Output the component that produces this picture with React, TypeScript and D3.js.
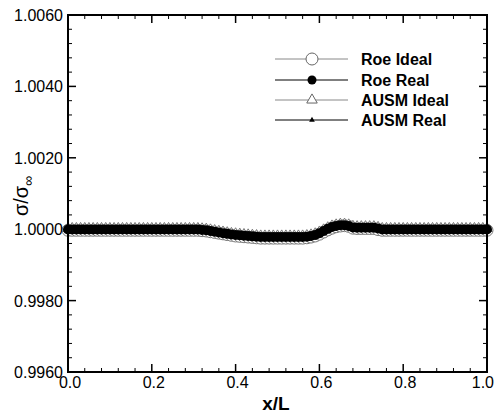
import React from "react";
import * as d3 from "d3";

const xs = [
  0.0, 0.01, 0.02, 0.03, 0.04, 0.05, 0.06, 0.07, 0.08, 0.09,
  0.1, 0.11, 0.12, 0.13, 0.14, 0.15, 0.16, 0.17, 0.18, 0.19,
  0.2, 0.21, 0.22, 0.23, 0.24, 0.25, 0.26, 0.27, 0.28, 0.29,
  0.3, 0.31, 0.32, 0.33, 0.34, 0.35, 0.36, 0.37, 0.38, 0.39,
  0.4, 0.41, 0.42, 0.43, 0.44, 0.45, 0.46, 0.47, 0.48, 0.49,
  0.5, 0.51, 0.52, 0.53, 0.54, 0.55, 0.56, 0.57, 0.58, 0.59,
  0.6, 0.61, 0.62, 0.63, 0.64, 0.65, 0.66, 0.67, 0.68, 0.69,
  0.7, 0.71, 0.72, 0.73, 0.74, 0.75, 0.76, 0.77, 0.78, 0.79,
  0.8, 0.81, 0.82, 0.83, 0.84, 0.85, 0.86, 0.87, 0.88, 0.89,
  0.9, 0.91, 0.92, 0.93, 0.94, 0.95, 0.96, 0.97, 0.98, 0.99, 1.0,
];

const roeIdeal = [
  0.99997, 0.99997, 0.99997, 0.99997, 0.99997, 0.99997, 0.99997, 0.99997, 0.99997, 0.99997,
  0.99997, 0.99997, 0.99997, 0.99997, 0.99997, 0.99997, 0.99997, 0.99997, 0.99997, 0.99997,
  0.99997, 0.99997, 0.99997, 0.99997, 0.99997, 0.99997, 0.99997, 0.99997, 0.99997, 0.99997,
  0.99997, 0.99997, 0.99996, 0.99995, 0.99993, 0.99991, 0.99989, 0.99987, 0.99985, 0.99983,
  0.99981, 0.9998, 0.99979, 0.99978, 0.99977, 0.99976, 0.99975, 0.99975, 0.99975, 0.99975,
  0.99975, 0.99975, 0.99975, 0.99975, 0.99975, 0.99975, 0.99975, 0.99976, 0.99978, 0.99981,
  0.99986, 0.99992, 0.99998, 1.00003, 1.00007, 1.00009, 1.0001, 1.00008, 1.00003, 1.00002,
  1.00002, 1.00002, 1.00002, 1.00002, 0.99999, 0.99997, 0.99997, 0.99997, 0.99997, 0.99997,
  0.99997, 0.99997, 0.99997, 0.99997, 0.99997, 0.99997, 0.99997, 0.99997, 0.99997, 0.99997,
  0.99997, 0.99997, 0.99997, 0.99997, 0.99997, 0.99997, 0.99997, 0.99997, 0.99997, 0.99997, 0.99997,
];

const roeReal = [
  0.99999, 0.99999, 0.99999, 0.99999, 0.99999, 0.99999, 0.99999, 0.99999, 0.99999, 0.99999,
  0.99999, 0.99999, 0.99999, 0.99999, 0.99999, 0.99999, 0.99999, 0.99999, 0.99999, 0.99999,
  0.99999, 0.99999, 0.99999, 0.99999, 0.99999, 0.99999, 0.99999, 0.99999, 0.99999, 0.99999,
  0.99999, 0.99999, 0.99998, 0.99997, 0.99995, 0.99993, 0.99991, 0.99989, 0.99987, 0.99985,
  0.99984, 0.99983, 0.99982, 0.99981, 0.9998, 0.99979, 0.99978, 0.99978, 0.99978, 0.99978,
  0.99978, 0.99978, 0.99978, 0.99978, 0.99978, 0.99978, 0.99978, 0.99979, 0.99981, 0.99984,
  0.99989, 0.99995, 1.00001, 1.00006, 1.00009, 1.00011, 1.00011, 1.00009, 1.00005, 1.00004,
  1.00004, 1.00004, 1.00004, 1.00004, 1.00002, 0.99999, 0.99999, 0.99999, 0.99999, 0.99999,
  0.99999, 0.99999, 0.99999, 0.99999, 0.99999, 0.99999, 0.99999, 0.99999, 0.99999, 0.99999,
  0.99999, 0.99999, 0.99999, 0.99999, 0.99999, 0.99999, 0.99999, 0.99999, 0.99999, 0.99999, 0.99999,
];

const ausmIdeal = [
  1.00002, 1.00002, 1.00002, 1.00002, 1.00002, 1.00002, 1.00002, 1.00002, 1.00002, 1.00002,
  1.00002, 1.00002, 1.00002, 1.00002, 1.00002, 1.00002, 1.00002, 1.00002, 1.00002, 1.00002,
  1.00002, 1.00002, 1.00002, 1.00002, 1.00002, 1.00002, 1.00002, 1.00002, 1.00002, 1.00002,
  1.00002, 1.00002, 1.00001, 1.0, 0.99998, 0.99996, 0.99994, 0.99992, 0.9999, 0.99988,
  0.99987, 0.99986, 0.99985, 0.99984, 0.99983, 0.99982, 0.99981, 0.99981, 0.99981, 0.99981,
  0.99981, 0.99981, 0.99981, 0.99981, 0.99981, 0.99981, 0.99981, 0.99982, 0.99984, 0.99987,
  0.99992, 0.99998, 1.00004, 1.00009, 1.00012, 1.00014, 1.00014, 1.00012, 1.00008, 1.00007,
  1.00007, 1.00007, 1.00007, 1.00007, 1.00005, 1.00002, 1.00002, 1.00002, 1.00002, 1.00002,
  1.00002, 1.00002, 1.00002, 1.00002, 1.00002, 1.00002, 1.00002, 1.00002, 1.00002, 1.00002,
  1.00002, 1.00002, 1.00002, 1.00002, 1.00002, 1.00002, 1.00002, 1.00002, 1.00002, 1.00002, 1.00002,
];

const ausmReal = [
  1.00001, 1.00001, 1.00001, 1.00001, 1.00001, 1.00001, 1.00001, 1.00001, 1.00001, 1.00001,
  1.00001, 1.00001, 1.00001, 1.00001, 1.00001, 1.00001, 1.00001, 1.00001, 1.00001, 1.00001,
  1.00001, 1.00001, 1.00001, 1.00001, 1.00001, 1.00001, 1.00001, 1.00001, 1.00001, 1.00001,
  1.00001, 1.00001, 1.0, 0.99999, 0.99997, 0.99995, 0.99993, 0.99991, 0.99989, 0.99987,
  0.99986, 0.99985, 0.99984, 0.99983, 0.99982, 0.99981, 0.9998, 0.9998, 0.9998, 0.9998,
  0.9998, 0.9998, 0.9998, 0.9998, 0.9998, 0.9998, 0.9998, 0.99981, 0.99983, 0.99986,
  0.99991, 0.99997, 1.00003, 1.00007, 1.0001, 1.00012, 1.00012, 1.0001, 1.00006, 1.00005,
  1.00005, 1.00005, 1.00005, 1.00005, 1.00003, 1.00001, 1.00001, 1.00001, 1.00001, 1.00001,
  1.00001, 1.00001, 1.00001, 1.00001, 1.00001, 1.00001, 1.00001, 1.00001, 1.00001, 1.00001,
  1.00001, 1.00001, 1.00001, 1.00001, 1.00001, 1.00001, 1.00001, 1.00001, 1.00001, 1.00001, 1.00001,
];

const seriesNames = ["Roe Ideal", "Roe Real", "AUSM Ideal", "AUSM Real"];
const xMajorTicks = [0, 0.2, 0.4, 0.6, 0.8, 1.0];
const xTickLabels = ["0.0", "0.2", "0.4", "0.6", "0.8", "1.0"];
const yMajorTicks = [0.996, 0.998, 1.0, 1.002, 1.004, 1.006];
const yTickLabels = ["0.9960", "0.9980", "1.0000", "1.0020", "1.0040", "1.0060"];

const W = 495;
const H = 415;
const M = { left: 68, right: 487, top: 15, bottom: 372 };

export default function App() {
  const x = d3.scaleLinear().domain([0, 1]).range([M.left, M.right]);
  const y = d3.scaleLinear().domain([0.996, 1.006]).range([M.bottom, M.top]);

  const xMinor = d3.range(0, 1.0001, 0.04).filter((v) => !xMajorTicks.some((m) => Math.abs(m - v) < 1e-6));
  const yMinor = d3.range(0.996, 1.00601, 0.0004).filter((v) => !yMajorTicks.some((m) => Math.abs(m - v) < 1e-7));

  const line = d3
    .line<number>()
    .x((_, i) => x(xs[i]))
    .y((d) => y(d));

  const tri = d3.symbol().type(d3.symbolTriangle);
  const triBig = tri.size(48)() as string;
  const triSmall = tri.size(14)() as string;

  const font = "Arial, 'Liberation Sans', sans-serif";

  const legendY = [59, 80, 100, 120];
  const legendX0 = 275;
  const legendX1 = 348;
  const legendMx = 312;

  return (
    <svg width={W} height={H} style={{ position: "absolute", left: 0, top: 0 }}>
      <rect width={W} height={H} fill="#fff" />
      <defs>
        <clipPath id="plot">
          <rect x={M.left - 8} y={M.top} width={M.right - M.left + 16} height={M.bottom - M.top} />
        </clipPath>
      </defs>

      {/* data */}
      <g clipPath="url(#plot)">
        <path d={line(roeIdeal) || ""} fill="none" stroke="#888" strokeWidth={1} />
        {roeIdeal.map((v, i) => (
          <circle key={"ri" + i} cx={x(xs[i])} cy={y(v)} r={6} fill="#fff" stroke="#777" strokeWidth={1} />
        ))}
        <path d={line(ausmIdeal) || ""} fill="none" stroke="#888" strokeWidth={1} />
        {ausmIdeal.map((v, i) => (
          <path key={"ai" + i} d={triBig} transform={`translate(${x(xs[i])},${y(v)})`} fill="#fff" stroke="#777" strokeWidth={1} />
        ))}
        <path d={line(roeReal) || ""} fill="none" stroke="#000" strokeWidth={1} />
        {roeReal.map((v, i) => (
          <circle key={"rr" + i} cx={x(xs[i])} cy={y(v)} r={5} fill="#000" />
        ))}
        <path d={line(ausmReal) || ""} fill="none" stroke="#000" strokeWidth={1} />
        {ausmReal.map((v, i) => (
          <path key={"ar" + i} d={triSmall} transform={`translate(${x(xs[i])},${y(v)})`} fill="#000" />
        ))}
      </g>

      {/* frame */}
      <rect x={M.left} y={M.top} width={M.right - M.left} height={M.bottom - M.top} fill="none" stroke="#000" strokeWidth={2} />

      {/* x ticks */}
      {xMajorTicks.map((t) => (
        <g key={"xm" + t}>
          <line x1={x(t)} x2={x(t)} y1={M.bottom} y2={M.bottom - 8} stroke="#000" strokeWidth={1.5} />
          <line x1={x(t)} x2={x(t)} y1={M.top} y2={M.top + 8} stroke="#000" strokeWidth={1.5} />
        </g>
      ))}
      {xMinor.map((t) => (
        <g key={"xn" + t}>
          <line x1={x(t)} x2={x(t)} y1={M.bottom} y2={M.bottom - 4} stroke="#000" strokeWidth={1} />
          <line x1={x(t)} x2={x(t)} y1={M.top} y2={M.top + 4} stroke="#000" strokeWidth={1} />
        </g>
      ))}
      {/* y ticks */}
      {yMajorTicks.map((t) => (
        <g key={"ym" + t}>
          <line x1={M.left} x2={M.left + 8} y1={y(t)} y2={y(t)} stroke="#000" strokeWidth={1.5} />
          <line x1={M.right} x2={M.right - 8} y1={y(t)} y2={y(t)} stroke="#000" strokeWidth={1.5} />
        </g>
      ))}
      {yMinor.map((t) => (
        <g key={"yn" + t}>
          <line x1={M.left} x2={M.left + 4} y1={y(t)} y2={y(t)} stroke="#000" strokeWidth={1} />
          <line x1={M.right} x2={M.right - 4} y1={y(t)} y2={y(t)} stroke="#000" strokeWidth={1} />
        </g>
      ))}

      {/* tick labels */}
      {xMajorTicks.map((t, i) => (
        <text
          key={"xl" + t}
          x={i === xMajorTicks.length - 1 ? 494 : x(t) + 2}
          y={M.bottom + 16}
          textAnchor={i === xMajorTicks.length - 1 ? "end" : "middle"}
          fontFamily={font}
          fontSize={16}
          fill="#000"
        >
          {xTickLabels[i]}
        </text>
      ))}
      {yMajorTicks.map((t, i) => (
        <text key={"yl" + t} x={M.left - 5} y={y(t) + 6} textAnchor="end" fontFamily={font} fontSize={16} fill="#000">
          {yTickLabels[i]}
        </text>
      ))}

      {/* axis titles */}
      <text x={276} y={410} textAnchor="middle" fontFamily={font} fontSize={19} fontWeight="bold" fill="#000">
        x/L
      </text>
      <g transform="translate(28,196) rotate(-90)">
        <text x={0} y={0} textAnchor="middle" fontFamily={font} fontSize={20} fill="#000">
          σ/σ<tspan fontSize={14} dy={5}>∞</tspan>
        </text>
      </g>

      {/* legend */}
      {seriesNames.map((name, i) => {
        const ly = legendY[i];
        const gray = i === 0 || i === 2;
        return (
          <g key={"lg" + i}>
            <line x1={legendX0} x2={legendX1} y1={ly} y2={ly} stroke={gray ? "#888" : "#000"} strokeWidth={1} />
            {i === 0 && <circle cx={legendMx} cy={ly} r={6} fill="#fff" stroke="#666" strokeWidth={1} />}
            {i === 1 && <circle cx={legendMx} cy={ly} r={4.5} fill="#000" />}
            {i === 2 && <path d={triBig} transform={`translate(${legendMx},${ly})`} fill="#fff" stroke="#666" strokeWidth={1} />}
            {i === 3 && <path d={triSmall} transform={`translate(${legendMx},${ly})`} fill="#000" />}
            <text x={361} y={ly + 6} fontFamily={font} fontSize={16} fontWeight="bold" fill="#000">
              {name}
            </text>
          </g>
        );
      })}
    </svg>
  );
}
